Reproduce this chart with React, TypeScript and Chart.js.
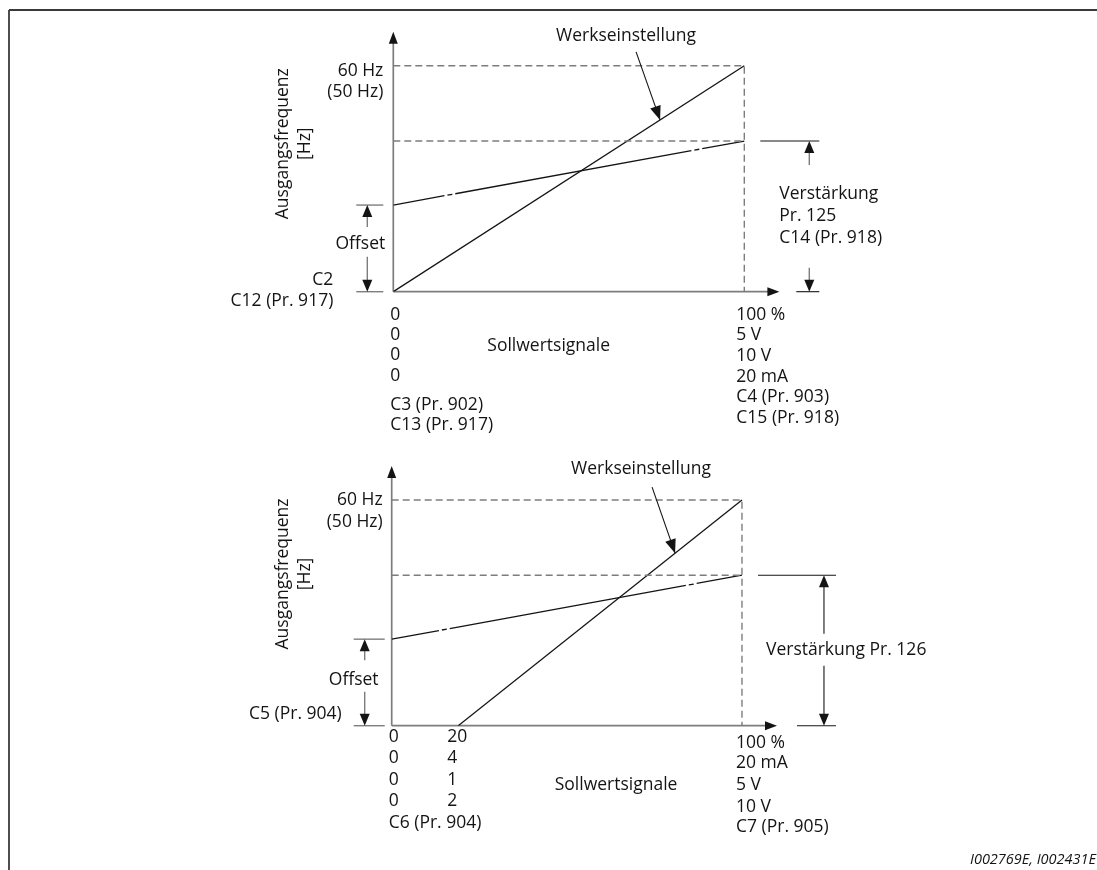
import React, { useEffect, useRef } from "react";
import { Chart, registerables } from "chart.js";

Chart.register(...registerables);

// ---------- data ----------
const maxFrequency = 60; // 60 Hz (50 Hz)
const gainFrequency = 40;
const offsetFrequency = 23;
const fullSignal = 100; // 100 %

const topFactoryX = [0, 100];
const topFactoryY = [0, 60];
const topGainX = [0, 100];
const topGainY = [23, 40];

const bottomFactoryX = [19, 100];
const bottomFactoryY = [0, 60];
const bottomGainX = [0, 100];
const bottomGainY = [23, 40];

const freqLabels = ["60 Hz", "(50 Hz)"];
const yTitle = ["Ausgangsfrequenz", "[Hz]"];
const xTitle = "Sollwertsignale";
const factoryLabel = "Werkseinstellung";
const offsetLabel = "Offset";

const topStartZeros = ["0", "0", "0", "0"];
const topStartParams = ["C3 (Pr. 902)", "C13 (Pr. 917)"];
const topEndLabels = ["100 %", "5 V", "10 V", "20 mA", "C4 (Pr. 903)", "C15 (Pr. 918)"];
const topOffsetParams = ["C2", "C12 (Pr. 917)"];
const topGainLabels = ["Verstärkung", "Pr. 125", "C14 (Pr. 918)"];

const bottomStartLabels = ["0", "0", "0", "0", "C6 (Pr. 904)"];
const bottomBiasLabels = ["20", "4", "1", "2"];
const bottomEndLabels = ["100 %", "20 mA", "5 V", "10 V", "C7 (Pr. 905)"];
const bottomOffsetParam = "C5 (Pr. 904)";
const bottomGainLabel = "Verstärkung Pr. 126";
const footnote = "I002769E, I002431E";

// ---------- style ----------
const FONT = '"Open Sans", sans-serif';
const FS = 17.5;
const INK = "#141414";
const GREY = "#7d7d7d";
const FRAME = "#3a3a3a";
const W = 1097;
const H = 435;

function pts(xs: number[], ys: number[]) {
  return xs.map((x, i) => ({ x, y: ys[i] }));
}

function lineDs(data: any[], extra: any = {}) {
  return {
    data,
    showLine: true,
    pointRadius: 0,
    borderColor: INK,
    borderWidth: 1.3,
    fill: false,
    tension: 0,
    ...extra,
  };
}

function head(ctx: CanvasRenderingContext2D, tx: number, ty: number, fx: number, fy: number, len = 12, hw = 5, color = INK) {
  const dx = tx - fx;
  const dy = ty - fy;
  const l = Math.hypot(dx, dy) || 1;
  const ux = dx / l;
  const uy = dy / l;
  const bx = tx - ux * len;
  const by = ty - uy * len;
  ctx.save();
  ctx.fillStyle = color;
  ctx.beginPath();
  ctx.moveTo(tx, ty);
  ctx.lineTo(bx - uy * hw, by + ux * hw);
  ctx.lineTo(bx + uy * hw, by - ux * hw);
  ctx.closePath();
  ctx.fill();
  ctx.restore();
}

function seg(ctx: CanvasRenderingContext2D, x1: number, y1: number, x2: number, y2: number, color = GREY, w = 1.4) {
  ctx.save();
  ctx.strokeStyle = color;
  ctx.lineWidth = w;
  ctx.beginPath();
  ctx.moveTo(x1, y1);
  ctx.lineTo(x2, y2);
  ctx.stroke();
  ctx.restore();
}

function txt(ctx: CanvasRenderingContext2D, s: string, x: number, y: number, align: CanvasTextAlign = "left", font = `${FS}px ${FONT}`) {
  ctx.save();
  ctx.fillStyle = INK;
  ctx.font = font;
  ctx.textAlign = align;
  ctx.textBaseline = "alphabetic";
  ctx.fillText(s, x, y);
  ctx.restore();
}

function vtxt(ctx: CanvasRenderingContext2D, s: string, x: number, y: number) {
  ctx.save();
  ctx.translate(x, y);
  ctx.rotate(-Math.PI / 2);
  ctx.fillStyle = INK;
  ctx.font = `${FS}px ${FONT}`;
  ctx.textAlign = "center";
  ctx.textBaseline = "middle";
  ctx.fillText(s, 0, 0);
  ctx.restore();
}

function drawAxes(chart: any) {
  const ctx = chart.ctx;
  const a = chart.chartArea;
  const X = (v: number) => chart.scales.x.getPixelForValue(v);
  const Y = (v: number) => chart.scales.y.getPixelForValue(v);
  const x0 = X(0);
  const y0 = Y(0);
  seg(ctx, x0, y0, x0, a.top + 8, GREY, 1.7);
  head(ctx, x0, a.top, x0, y0, 12, 4.5);
  seg(ctx, x0, y0, a.right - 8, y0, GREY, 1.7);
  head(ctx, a.right, y0, x0, y0, 12, 4.5);
}

function baseOptions(padding: any, xMax: number, yMax: number) {
  return {
    responsive: false,
    animation: false as const,
    events: [] as any[],
    layout: { padding },
    plugins: { legend: { display: false }, tooltip: { enabled: false } },
    scales: {
      x: { type: "linear" as const, min: 0, max: xMax, display: false },
      y: { type: "linear" as const, min: 0, max: yMax, display: false },
    },
  };
}

function guideDatasets() {
  return [
    lineDs(pts([0, fullSignal, fullSignal], [maxFrequency, maxFrequency, 0]), {
      borderColor: GREY,
      borderWidth: 1.4,
      borderDash: [7, 4],
    }),
    lineDs(pts([0, fullSignal], [gainFrequency, gainFrequency]), {
      borderColor: GREY,
      borderWidth: 1.4,
      borderDash: [7, 4],
    }),
  ];
}

const topPlugin = {
  id: "topAnno",
  beforeDatasetsDraw(chart: any) {
    const ctx = chart.ctx;
    seg(ctx, 9, 10, W, 10, FRAME, 1.8);
    seg(ctx, 9, 10, 9, H, FRAME, 1.8);
    drawAxes(chart);
  },
  afterDatasetsDraw(chart: any) {
    const ctx = chart.ctx;
    const X = (v: number) => chart.scales.x.getPixelForValue(v);
    const Y = (v: number) => chart.scales.y.getPixelForValue(v);
    const x0 = X(0);
    const x100 = X(fullSignal);
    const y0 = Y(0);
    const y60 = Y(maxFrequency);
    const yG = Y(gainFrequency);
    const yO = Y(offsetFrequency);

    txt(ctx, freqLabels[0], x0 - 10, y60 + 10, "right");
    txt(ctx, freqLabels[1], x0 - 10, y60 + 31, "right");
    vtxt(ctx, yTitle[0], x0 - 110, y60 + 78);
    vtxt(ctx, yTitle[1], x0 - 88, y60 + 78);

    const tipX = X(76);
    const tipY = Y(76 * 0.6);
    const tailX = tipX - 24;
    const tailY = tipY - 68;
    seg(ctx, tailX, tailY, tipX, tipY, INK, 1.1);
    head(ctx, tipX, tipY, tailX, tailY, 14, 5.5);
    txt(ctx, factoryLabel, tailX - 80, tailY - 11);

    seg(ctx, x0 - 37, yO, x0 - 10, yO);
    seg(ctx, x0 - 37, y0, x0 - 10, y0);
    seg(ctx, x0 - 26, yO + 6, x0 - 26, yO + 22);
    head(ctx, x0 - 26, yO, x0 - 26, yO + 10);
    seg(ctx, x0 - 26, y0 - 35, x0 - 26, y0 - 6);
    head(ctx, x0 - 26, y0, x0 - 26, y0 - 10);
    txt(ctx, offsetLabel, x0 - 33, y0 - 43, "center");
    txt(ctx, topOffsetParams[0], x0 - 60, y0 - 7, "right");
    txt(ctx, topOffsetParams[1], x0 - 60, y0 + 14, "right");

    topStartZeros.forEach((s, i) => txt(ctx, s, x0 - 3, y0 + 28 + i * 20.3));
    topStartParams.forEach((s, i) => txt(ctx, s, x0 - 3, y0 + 118 + i * 20.5));
    topEndLabels.forEach((s, i) => txt(ctx, s, x100 - 8, y0 + 28 + i * 20.6));
    txt(ctx, xTitle, x0 + 94, y0 + 59);

    seg(ctx, x100 + 16, yG, x100 + 75, yG, INK, 1.1);
    seg(ctx, x100 + 52, y0, x100 + 75, y0, INK, 1.1);
    const gx = x100 + 65;
    seg(ctx, gx, yG + 6, gx, yG + 24);
    head(ctx, gx, yG, gx, yG + 10);
    seg(ctx, gx, y0 - 24, gx, y0 - 6);
    head(ctx, gx, y0, gx, y0 - 10);
    topGainLabels.forEach((s, i) => txt(ctx, s, x100 + 35, y0 - 93 + i * 22));
  },
};

const bottomPlugin = {
  id: "bottomAnno",
  beforeDatasetsDraw(chart: any) {
    const ctx = chart.ctx;
    seg(ctx, 9, 0, 9, H, FRAME, 1.8);
    drawAxes(chart);
  },
  afterDatasetsDraw(chart: any) {
    const ctx = chart.ctx;
    const X = (v: number) => chart.scales.x.getPixelForValue(v);
    const Y = (v: number) => chart.scales.y.getPixelForValue(v);
    const x0 = X(0);
    const x100 = X(fullSignal);
    const xb = X(bottomFactoryX[0]);
    const y0 = Y(0);
    const y60 = Y(maxFrequency);
    const yG = Y(gainFrequency);
    const yO = Y(offsetFrequency);

    txt(ctx, freqLabels[0], x0 - 9, y60 + 5, "right");
    txt(ctx, freqLabels[1], x0 - 9, y60 + 27, "right");
    vtxt(ctx, yTitle[0], x0 - 109, y60 + 74);
    vtxt(ctx, yTitle[1], x0 - 87, y60 + 74);

    const vx = 80.9;
    const tipX = X(vx);
    const tipY = Y(((vx - bottomFactoryX[0]) / (100 - bottomFactoryX[0])) * 60);
    const tailX = tipX - 23;
    const tailY = tipY - 66;
    seg(ctx, tailX, tailY, tipX, tipY, INK, 1.1);
    head(ctx, tipX, tipY, tailX, tailY, 14, 5.5);
    txt(ctx, factoryLabel, tailX - 81, tailY - 13);

    seg(ctx, x0 - 38, yO, x0 - 7, yO);
    seg(ctx, x0 - 38, y0, x0 - 7, y0);
    seg(ctx, x0 - 27, yO + 6, x0 - 27, yO + 21);
    head(ctx, x0 - 27, yO, x0 - 27, yO + 10);
    seg(ctx, x0 - 27, y0 - 34, x0 - 27, y0 - 6);
    head(ctx, x0 - 27, y0, x0 - 27, y0 - 10);
    txt(ctx, offsetLabel, x0 - 38, y0 - 41, "center");
    txt(ctx, bottomOffsetParam, x0 - 50, y0 - 7, "right");

    const rows = [16, 37.6, 59.3, 80.3, 102.6];
    bottomStartLabels.forEach((s, i) => txt(ctx, s, x0 - 3, y0 + rows[i]));
    bottomBiasLabels.forEach((s, i) => txt(ctx, s, xb - 11, y0 + rows[i]));
    const endRows = [22.6, 42.6, 64.3, 86, 106];
    bottomEndLabels.forEach((s, i) => txt(ctx, s, x100 - 6, y0 + endRows[i]));
    txt(ctx, xTitle, x0 + 163, y0 + 64);

    seg(ctx, x100 + 16, yG, x100 + 94, yG, INK, 1.1);
    seg(ctx, x100 + 55, y0, x100 + 94, y0, INK, 1.1);
    const gx = x100 + 82;
    seg(ctx, gx, yG + 6, gx, y0 - 92, INK, 1.1);
    head(ctx, gx, yG, gx, yG + 10);
    seg(ctx, gx, y0 - 60, gx, y0 - 6, INK, 1.1);
    head(ctx, gx, y0, gx, y0 - 10);
    txt(ctx, bottomGainLabel, x100 + 24, y0 - 71);

    txt(ctx, footnote, W - 1, H - 6, "right", `italic 14.5px ${FONT}`);
  },
};

export default function App() {
  const topRef = useRef<HTMLCanvasElement>(null);
  const botRef = useRef<HTMLCanvasElement>(null);

  useEffect(() => {
    const top = new Chart(topRef.current as HTMLCanvasElement, {
      type: "scatter",
      data: {
        datasets: [
          ...guideDatasets(),
          lineDs(pts(topGainX, topGainY), { borderDash: [240, 3, 5, 3], borderDashOffset: 188 }),
          lineDs(pts(topFactoryX, topFactoryY)),
        ] as any,
      },
      options: baseOptions({ left: 393.3, right: 317.6, top: 31.8, bottom: 143.3 }, 110, 69) as any,
      plugins: [topPlugin],
    });
    const bottom = new Chart(botRef.current as HTMLCanvasElement, {
      type: "scatter",
      data: {
        datasets: [
          ...guideDatasets(),
          lineDs(pts(bottomGainX, bottomGainY), { borderDash: [240, 3, 5, 3], borderDashOffset: 192 }),
          lineDs(pts(bottomFactoryX, bottomFactoryY)),
        ] as any,
      },
      options: baseOptions({ left: 391.7, right: 320, top: 31.1, bottom: 144.3 }, 110, 69) as any,
      plugins: [bottomPlugin],
    });
    return () => {
      top.destroy();
      bottom.destroy();
    };
  }, []);

  return (
    <div>
      <canvas ref={topRef} width={W} height={H} style={{ position: "absolute", left: 0, top: 0, width: W, height: H }} />
      <canvas ref={botRef} width={W} height={H} style={{ position: "absolute", left: 0, top: H, width: W, height: H }} />
    </div>
  );
}
